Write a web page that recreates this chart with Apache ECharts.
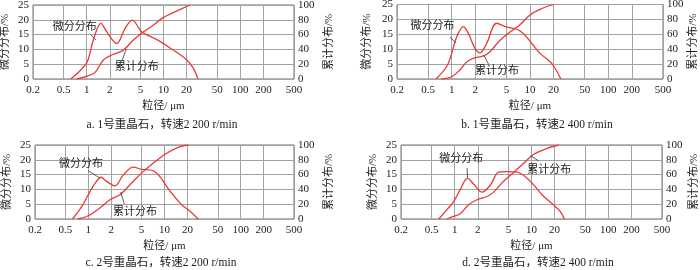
<!DOCTYPE html>
<html>
<head>
<meta charset="utf-8">
<script src="https://cdn.jsdelivr.net/npm/echarts@6/dist/echarts.min.js"></script>
<style>
html, body { margin: 0; padding: 0; background: #fff; }
#chart { width: 700px; height: 270px; }
</style>
</head>
<body>
<div id="chart"></div>
<script>
// 刻度
const xTicks = [0.2, 0.5, 1, 2, 5, 10, 20, 50, 100, 200, 500];
const captions = [
    'a. 1号重晶石，转速2 200 r/min',
    'b. 1号重晶石，转速2 400 r/min',
    'c. 2号重晶石，转速2 200 r/min',
    'd. 2号重晶石，转速2 400 r/min'
];

// [粒径 μm, 百分比]
const aDiff = [[0.62, 0], [0.82, 2.8], [1.02, 5.9], [1.22, 13.2], [1.53, 18.8], [1.82, 16], [2.46, 12],
    [3.16, 17.1], [3.92, 19.9], [5.2, 16], [8.2, 13.3], [12.2, 10.5], [20, 6.5], [24.4, 3.7], [28.2, 0]];
const aCum = [[0.74, 0], [1.02, 4], [1.28, 8.6], [1.65, 25.7], [2.12, 32.4], [3.0, 39], [4.06, 52.7],
    [5.2, 61.7], [7.4, 73], [9.9, 83], [13.4, 89.6], [22, 100]];

const bDiff = [[0.63, 0], [0.86, 4.1], [1.0, 8.6], [1.16, 14.2], [1.41, 17.6], [1.63, 15.3], [1.98, 10.3],
    [2.3, 8.8], [2.8, 12], [3.75, 18.7], [5.0, 17.5], [6.8, 16.7], [8.2, 15.3], [10.5, 12], [13.4, 8.6],
    [18, 5.9], [20.9, 3.6], [24.8, 0]];
const bCum = [[0.74, 0], [1.0, 3], [1.27, 12], [1.56, 23], [1.88, 27.8], [2.54, 31], [3.08, 36.7],
    [4.14, 52], [5.6, 63.5], [7.4, 72.5], [10, 86], [13.4, 93.5], [20, 100]];

const cDiff = [[0.62, 0], [0.82, 4.2], [1.0, 8.2], [1.23, 12.1], [1.47, 14.1], [1.74, 12.7], [2.24, 11.2],
    [2.88, 14.9], [3.9, 17.5], [5.0, 16.8], [7.1, 16.3], [8.7, 14.3], [11.9, 9.3], [16.8, 4.8],
    [21.6, 2.6], [27.7, 0]];
const cCum = [[0.73, 0], [1.0, 4.4], [1.42, 14.8], [1.93, 26], [2.6, 32.7], [3.5, 46], [5.0, 62],
    [7.1, 75.4], [10.7, 88.8], [16, 97.7], [20.6, 100]];

const dDiff = [[0.62, 0], [0.79, 3.1], [0.97, 5.9], [1.18, 9.9], [1.47, 13.8], [1.76, 11.8], [2.27, 9.1],
    [2.92, 11.5], [3.74, 15.8], [4.8, 16], [6.5, 15.8], [8.3, 14.3], [10.7, 11.5], [13.7, 8.2],
    [19.3, 4.8], [23.6, 2.6], [26.8, 0]];
const dCum = [[0.79, 0], [0.97, 3.5], [1.18, 7.1], [1.52, 19.2], [1.95, 26], [2.63, 30.4], [3.2, 36.3],
    [4.3, 50.6], [5.9, 63.3], [7.9, 75.4], [10.7, 87.5], [16, 95.5], [22.5, 100]];

const diffSets = [aDiff, bDiff, cDiff, dDiff];
const cumSets = [aCum, bCum, cCum, dCum];

// 标注文字位置和引线 (数据坐标)
const diffNotes = [
    { at: [0.7, 17.6], line: [[1.13, 14.9], [1.32, 13.2]] },
    { at: [0.57, 17.8], line: [[0.95, 14], [1.13, 12.2]] },
    { at: [0.8, 18.6], line: [[1.0, 16.3], [1.42, 13.8]] },
    { at: [1.22, 20.3], line: [[1.45, 17.2], [1.47, 14]] }
];
const cumNotes = [
    { at: [4.5, 16.2], line: [[2.86, 23.4], [3.26, 40]] },
    { at: [3.8, 10.7], line: [[2.6, 31], [2.95, 20]] },
    { at: [4.1, 9.4], line: [[2.66, 36.3], [2.97, 20.6]] },
    { at: [17, 66], line: [[9.7, 85.6], [12.4, 78.5]] }
];

const layout = [
    { left: 33, top: 5, width: 261, height: 74, capX: 162, capY: 125, gapL: 22, gapR: 30 },
    { left: 397, top: 4.5, width: 266, height: 74.5, capX: 537, capY: 125, gapL: 24, gapR: 22 },
    { left: 35, top: 145, width: 259, height: 74, capX: 161, capY: 263, gapL: 22, gapR: 30 },
    { left: 401, top: 145, width: 261, height: 74, capX: 538, capY: 263, gapL: 22, gapR: 27 }
];

const FONT = "'Liberation Serif', 'Noto Sans CJK SC', serif";
const RED = '#e83a36';
const GRID_LINE = '#a2a2a2';
const TXT = '#222';

const chart = echarts.init(document.getElementById('chart'));

const grids = [], xAxes = [], yAxes = [], series = [], graphics = [];

layout.forEach((l, i) => {
    grids.push({
        left: l.left, top: l.top, width: l.width, height: l.height,
        show: true, borderColor: '#707070', borderWidth: 1,
        containLabel: false, outerBoundsMode: 'none'
    });
    xAxes.push({
        type: 'log', logBase: 10, gridIndex: i, min: 0.2, max: 500,
        name: '粒径/ μm', nameLocation: 'middle', nameGap: 22,
        nameTextStyle: { fontFamily: FONT, fontSize: 11, color: TXT },
        axisLine: { show: false },
        axisTick: { show: false, customValues: xTicks },
        axisLabel: {
            customValues: xTicks, fontFamily: FONT, fontSize: 11, color: TXT, margin: 6,
            formatter: v => String(v)
        },
        splitLine: { show: true, lineStyle: { color: GRID_LINE, width: 1 } },
        minorSplitLine: { show: false }
    });
    yAxes.push({
        type: 'value', gridIndex: i, position: 'left', min: 0, max: 25, interval: 5,
        name: '微分分布/%', nameLocation: 'middle', nameRotate: 90, nameGap: l.gapL,
        nameTextStyle: { fontFamily: FONT, fontSize: 11, color: TXT },
        axisLine: { show: false }, axisTick: { show: false },
        axisLabel: { fontFamily: FONT, fontSize: 11, color: TXT, margin: 4 },
        splitLine: { show: true, lineStyle: { color: GRID_LINE, width: 1 } }
    });
    yAxes.push({
        type: 'value', gridIndex: i, position: 'right', min: 0, max: 100, interval: 20,
        name: '累计分布/%', nameLocation: 'middle', nameRotate: 90, nameGap: l.gapR,
        nameTextStyle: { fontFamily: FONT, fontSize: 11, color: TXT },
        axisLine: { show: false }, axisTick: { show: false },
        axisLabel: { fontFamily: FONT, fontSize: 11, color: TXT, margin: 4 },
        splitLine: { show: false }
    });

    const note = (n, text) => ({
        symbol: 'circle', symbolSize: 1,
        itemStyle: { color: 'rgba(0,0,0,0)' },
        label: {
            show: true, position: 'inside', formatter: text,
            fontFamily: FONT, fontSize: 11, color: TXT
        },
        data: [{ coord: n.at }]
    });
    const leader = n => ({
        symbol: ['none', 'none'], silent: true,
        label: { show: false },
        lineStyle: { color: '#333', width: 0.8, type: 'solid' },
        data: [[{ coord: n.line[0] }, { coord: n.line[1] }]]
    });

    series.push({
        name: '微分分布', type: 'line', xAxisIndex: i, yAxisIndex: 2 * i,
        data: diffSets[i], smooth: 0.35, showSymbol: false,
        lineStyle: { color: RED, width: 1.3 }, itemStyle: { color: RED },
        markPoint: note(diffNotes[i], '微分分布'),
        markLine: leader(diffNotes[i])
    });
    series.push({
        name: '累计分布', type: 'line', xAxisIndex: i, yAxisIndex: 2 * i + 1,
        data: cumSets[i], smooth: 0.35, showSymbol: false,
        lineStyle: { color: RED, width: 1.3 }, itemStyle: { color: RED },
        markPoint: note(cumNotes[i], '累计分布'),
        markLine: leader(cumNotes[i])
    });

    graphics.push({
        type: 'text', x: l.capX, y: l.capY,
        style: {
            text: captions[i], fill: TXT, font: '11.5px ' + FONT,
            textAlign: 'center', textVerticalAlign: 'middle'
        }
    });
});

chart.setOption({
    animation: false,
    backgroundColor: '#fff',
    grid: grids,
    xAxis: xAxes,
    yAxis: yAxes,
    series: series,
    graphic: graphics
});
</script>
</body>
</html>
